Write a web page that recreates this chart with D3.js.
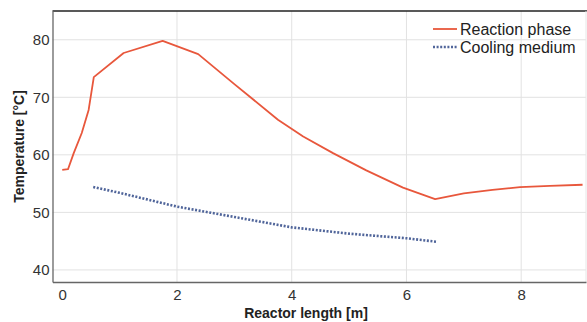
<!DOCTYPE html>
<html>
<head>
<meta charset="utf-8">
<script src="https://cdn.jsdelivr.net/npm/d3@7"></script>
<style>
  body { margin: 0; background: #fff; }
  svg { display: block; font-family: "Liberation Sans", Arial, sans-serif; }
</style>
</head>
<body>
<div id="chart"></div>
<script>
// Reaction phase temperature along the reactor
const reactionX = [0, 0.1, 0.2, 0.34, 0.46, 0.55, 1.07, 1.75, 2.37, 3.0, 3.76, 4.2, 4.72, 5.3, 5.94, 6.5, 7.0, 7.5, 7.98, 8.5, 9.07];
const reactionT = [57.4, 57.5, 60.3, 63.8, 67.8, 73.5, 77.7, 79.8, 77.5, 72.3, 66.1, 63.2, 60.3, 57.3, 54.3, 52.3, 53.3, 53.9, 54.4, 54.6, 54.8];

// Cooling medium temperature
const coolingX = [0.54, 1.0, 2.0, 3.0, 4.0, 5.0, 6.0, 6.52];
const coolingT = [54.4, 53.4, 51.0, 49.2, 47.4, 46.3, 45.5, 44.9];

const xTicks = [0, 2, 4, 6, 8];
const yTicks = [40, 50, 60, 70, 80];
const seriesNames = ["Reaction phase", "Cooling medium"];

const width = 587, height = 322;
const marginLeft = 52.5, plotRight = 586, marginTop = 11, plotBottom = 282;

const x = d3.scaleLinear().domain([-0.17, 9.13]).range([marginLeft, plotRight]);
const y = d3.scaleLinear().domain([37.9, 85]).range([plotBottom, marginTop]);

const svg = d3.select("#chart").append("svg")
  .attr("width", width)
  .attr("height", height);

// grid
svg.append("g")
  .selectAll("line")
  .data(xTicks.filter(d => d > 0))
  .join("line")
  .attr("x1", d => x(d)).attr("x2", d => x(d))
  .attr("y1", marginTop).attr("y2", plotBottom)
  .attr("stroke", "#e2e2e2");

svg.append("g")
  .selectAll("line")
  .data(yTicks)
  .join("line")
  .attr("x1", marginLeft).attr("x2", plotRight)
  .attr("y1", d => y(d)).attr("y2", d => y(d))
  .attr("stroke", "#e2e2e2");

// frame
svg.append("line")
  .attr("x1", marginLeft).attr("x2", width).attr("y1", marginTop).attr("y2", marginTop)
  .attr("stroke", "#222").attr("stroke-width", 1.5);
svg.append("line")
  .attr("x1", plotRight).attr("x2", plotRight).attr("y1", marginTop).attr("y2", plotBottom)
  .attr("stroke", "#e6e6e6");

// axes
svg.append("g")
  .attr("transform", `translate(0,${plotBottom})`)
  .call(d3.axisBottom(x).tickValues(xTicks).tickSize(0).tickPadding(7))
  .call(g => g.select(".domain").attr("stroke", "#666").attr("stroke-width", 1.3))
  .call(g => g.selectAll("text").attr("fill", "#333").attr("font-size", 15)
    .attr("font-family", "Liberation Sans, Arial, sans-serif"));

svg.append("g")
  .attr("transform", `translate(${marginLeft},0)`)
  .call(d3.axisLeft(y).tickValues(yTicks).tickSize(0).tickPadding(3))
  .call(g => g.select(".domain").attr("stroke", "#666").attr("stroke-width", 1.3))
  .call(g => g.selectAll("text").attr("fill", "#333").attr("font-size", 15)
    .attr("font-family", "Liberation Sans, Arial, sans-serif"));

// axis titles
svg.append("text")
  .attr("x", 306).attr("y", 318)
  .attr("text-anchor", "middle")
  .attr("font-size", 14).attr("font-weight", "bold").attr("fill", "#222")
  .text("Reactor length [m]");

svg.append("text")
  .attr("transform", `translate(24,${(marginTop + plotBottom) / 2}) rotate(-90)`)
  .attr("text-anchor", "middle")
  .attr("font-size", 14).attr("font-weight", "bold").attr("fill", "#222")
  .text("Temperature [°C]");

// lines
const line = d3.line().x(d => x(d[0])).y(d => y(d[1]));

svg.append("path")
  .datum(coolingX.map((v, i) => [v, coolingT[i]]))
  .attr("d", line)
  .attr("fill", "none")
  .attr("stroke", "#50659a")
  .attr("stroke-width", 2.6)
  .attr("stroke-dasharray", "2,1.6");

svg.append("path")
  .datum(reactionX.map((v, i) => [v, reactionT[i]]))
  .attr("d", line)
  .attr("fill", "none")
  .attr("stroke", "#e8573c")
  .attr("stroke-width", 1.8)
  .attr("stroke-linejoin", "round");

// legend
const legend = svg.append("g").attr("transform", "translate(433,29)");
seriesNames.forEach((name, i) => {
  const g = legend.append("g").attr("transform", `translate(0,${i * 18})`);
  g.append("line")
    .attr("x1", 0).attr("x2", 24)
    .attr("stroke", i === 0 ? "#e8573c" : "#50659a")
    .attr("stroke-width", i === 0 ? 1.8 : 2.6)
    .attr("stroke-dasharray", i === 0 ? null : "2,1.6");
  g.append("text")
    .attr("x", 27).attr("y", 0).attr("dy", "0.35em")
    .attr("font-size", 16).attr("fill", "#222")
    .text(name);
});
</script>
</body>
</html>
